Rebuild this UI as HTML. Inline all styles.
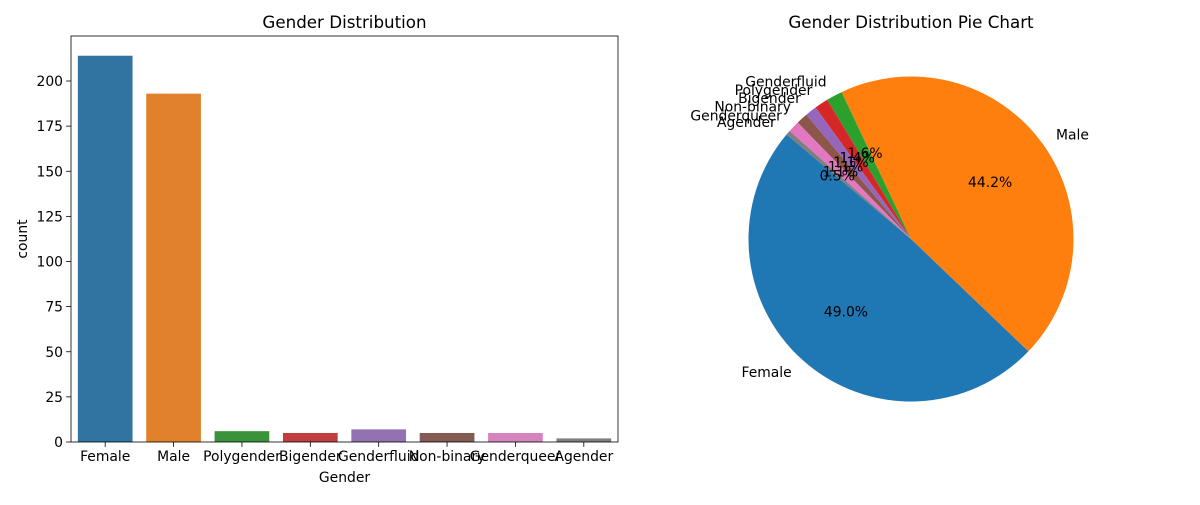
<!DOCTYPE html>
<html><head><meta charset="utf-8"><style>
body{margin:0;background:#fff}
svg text{font-family:"DejaVu Sans","Liberation Sans",sans-serif;fill:#000}
</style></head><body>
<svg id="c" width="1200" height="500" viewBox="0 0 1200 500" xmlns="http://www.w3.org/2000/svg"></svg>
<script>
const barCats=["Female","Male","Polygender","Bigender","Genderfluid","Non-binary","Genderqueer","Agender"];
const barVals=[214,193,6,5,7,5,5,2];
const barColors=["#3274a1","#e1812c","#3a923a","#c03d3e","#9372b2","#845b53","#d684bd","#7f7f7f"];
const yTicks=[0,25,50,75,100,125,150,175,200];
const pieCats=["Female","Male","Genderfluid","Polygender","Bigender","Non-binary","Genderqueer","Agender"];
const pieVals=[214,193,7,6,5,5,5,2];
const pieColors=["#1f77b4","#ff7f0e","#2ca02c","#d62728","#9467bd","#8c564b","#e377c2","#7f7f7f"];
const NS="http://www.w3.org/2000/svg",svg=document.getElementById('c');
function mk(t,a,p,txt){const e=document.createElementNS(NS,t);for(const k in a)e.setAttribute(k,a[k]);if(txt!=null)e.textContent=txt;(p||svg).appendChild(e);return e;}
// bar chart
const L=71,R=618,T=36,B=442,yMax=(B-81)/200;
const y=v=>B-v*yMax, band=(R-L)/barCats.length;
const g1=mk('g',{});
barCats.forEach((c,i)=>{const x0=L+band*i+band*0.1,w=band*0.8;
 const r=mk('rect',{x:x0,y:y(barVals[i]),width:w,height:barVals[i]*yMax,fill:barColors[i]},g1);
 
 const xc=L+band*(i+0.5);
 mk('line',{x1:xc,x2:xc,y1:B,y2:B+4.9,stroke:'#000','stroke-width':0.8},g1);
 const t=mk('text',{x:xc,y:B+19,'text-anchor':'middle','font-size':13.9},g1,c);
 
});
yTicks.forEach(v=>{mk('line',{x1:L-4.9,x2:L,y1:y(v),y2:y(v),stroke:'#000','stroke-width':0.8},g1);
 const t=mk('text',{x:L-8,y:y(v)+5,'text-anchor':'end','font-size':13.9},g1,v);
 });
const fr=mk('rect',{x:L,y:T,width:R-L,height:B-T,fill:'none',stroke:'#000','stroke-width':0.8},g1);

let t=mk('text',{x:(L+R)/2,y:28,'text-anchor':'middle','font-size':16.7},g1,'Gender Distribution');

t=mk('text',{x:(L+R)/2,y:482,'text-anchor':'middle','font-size':13.9},g1,'Gender');

t=mk('text',{x:0,y:0,'text-anchor':'middle','font-size':13.9,transform:`translate(27,${(T+B)/2}) rotate(-90)`},g1,'count');

// pie
const cx=911,cy=239,rad=162.5,tot=pieVals.reduce((a,b)=>a+b,0);
const g2=mk('g',{});
let a=140;
const P=(deg,r)=>[cx+r*Math.cos(deg*Math.PI/180),cy-r*Math.sin(deg*Math.PI/180)];
const texts=[];
pieCats.forEach((c,i)=>{const sw=pieVals[i]/tot*360,a2=a+sw;
 const [x1,y1]=P(a,rad),[x2,y2]=P(a2,rad);
 const p=mk('path',{d:`M${cx},${cy}L${x1},${y1}A${rad},${rad} 0 ${sw>180?1:0} 0 ${x2},${y2}Z`,fill:pieColors[i]},g2);
 
 const m=a+sw/2,[lx,ly]=P(m,rad*1.1),[px,py]=P(m,rad*0.6);
 texts.push([lx,ly,Math.cos(m*Math.PI/180)<0?'end':'start',c,'pie-label']);
 texts.push([px,py,'middle',(pieVals[i]/tot*100).toFixed(1)+'%','pie-percent']);
 a=a2;});
texts.forEach(([x,yy,an,s,n])=>{const e=mk('text',{x:x,y:yy+5,'text-anchor':an,'font-size':13.9},g2,s);
 });
t=mk('text',{x:cx,y:28,'text-anchor':'middle','font-size':16.7},g2,'Gender Distribution Pie Chart');

</script>
</body></html>
